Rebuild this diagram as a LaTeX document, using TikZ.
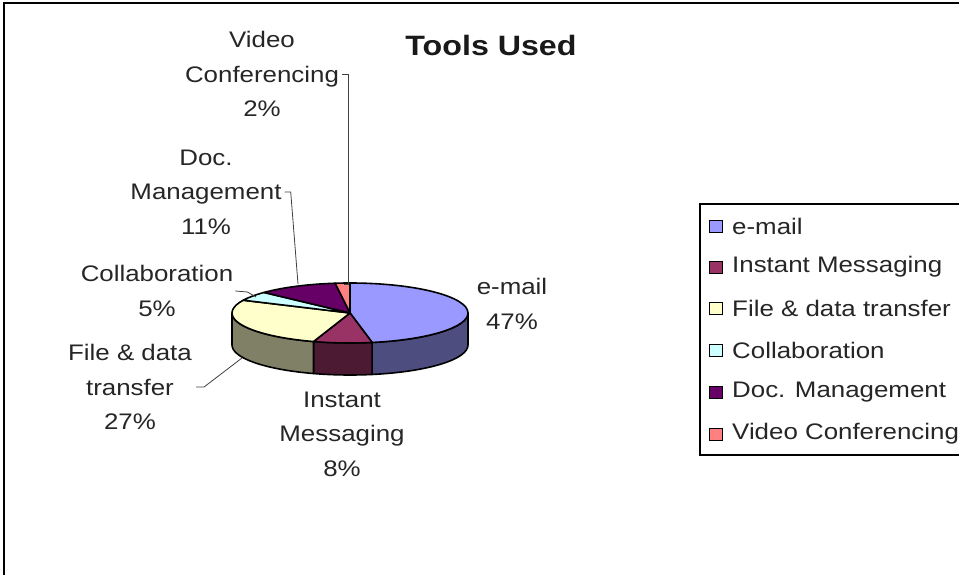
\documentclass[tikz,border=0pt]{standalone}
\usepackage{fontspec}
\setmainfont{Liberation Sans}
\usepackage{graphicx}
\newcommand{\sx}[1]{\scalebox{1.15}[1]{#1}}
\definecolor{cemail}{HTML}{9999FF}
\definecolor{cemailS}{HTML}{4D4D80}
\definecolor{cim}{HTML}{993366}
\definecolor{cimS}{HTML}{4D1A33}
\definecolor{cfile}{HTML}{FFFFCC}
\definecolor{cfileS}{HTML}{808066}
\definecolor{ccol}{HTML}{CCFFFF}
\definecolor{cdoc}{HTML}{660066}
\definecolor{cvid}{HTML}{FF8080}
\begin{document}
\begin{tikzpicture}[x=1pt,y=1pt,
  lbl/.style={align=center, font=\fontsize{22.5}{34.5}\selectfont, text=black!85, inner sep=0pt},
  leg/.style={anchor=west, font=\fontsize{22.5}{27}\selectfont, text=black!85, inner sep=0pt},
  legsq/.style={draw=black, line width=1pt, minimum width=13pt, minimum height=12pt, inner sep=0pt},
  lead/.style={draw=black!75, line width=0.8pt},
  pieedge/.style={draw=black, line width=1.6pt, line join=round},
  ell/.style={x radius=118pt, y radius=30pt}]
\useasboundingbox (0,0) rectangle (959,-575);
% frame
\draw[line width=2pt] (4,-580) -- (4,-3) -- (965,-3);
% title
\node[font=\fontsize{28}{34}\selectfont\bfseries, text=black!90, inner sep=0pt] (title) at (491,-45) {\sx{Tools Used}};
% pie sides
\coordinate (c) at (350,-313);
\filldraw[pieedge, fill=cemailS] (c) ++(-79.2:118pt and 30pt) arc[ell, start angle=-79.2, end angle=0] -- ++(0,-32) arc[ell, start angle=0, end angle=-79.2] -- cycle;
\filldraw[pieedge, fill=cimS] (c) ++(-108:118pt and 30pt) arc[ell, start angle=-108, end angle=-79.2] -- ++(0,-32) arc[ell, start angle=-79.2, end angle=-108] -- cycle;
\filldraw[pieedge, fill=cfileS] (c) ++(-180:118pt and 30pt) arc[ell, start angle=-180, end angle=-108] -- ++(0,-32) arc[ell, start angle=-108, end angle=-180] -- cycle;
% pie top
\filldraw[pieedge, fill=cemail] (c) -- ++(90:118pt and 30pt) arc[ell, start angle=90, end angle=-79.2] -- cycle;
\filldraw[pieedge, fill=cim] (c) -- ++(-79.2:118pt and 30pt) arc[ell, start angle=-79.2, end angle=-108] -- cycle;
\filldraw[pieedge, fill=cfile] (c) -- ++(-108:118pt and 30pt) arc[ell, start angle=-108, end angle=-205.2] -- cycle;
\filldraw[pieedge, fill=ccol] (c) -- ++(154.8:118pt and 30pt) arc[ell, start angle=154.8, end angle=136.8] -- cycle;
\filldraw[pieedge, fill=cdoc] (c) -- ++(136.8:118pt and 30pt) arc[ell, start angle=136.8, end angle=97.2] -- cycle;
\filldraw[pieedge, fill=cvid] (c) -- ++(97.2:118pt and 30pt) arc[ell, start angle=97.2, end angle=90] -- cycle;
% anchor points of leaders
\coordinate (pvid) at (344,-284);
\coordinate (pdoc) at (298,-284);
\coordinate (pcol) at (256,-297);
\coordinate (pfile) at (242,-358);
% labels
\node[lbl] (lvid) at (262,-74) {\sx{Video}\\\sx{Conferencing}\\\sx{2\%}};
\node[lbl] (ldoc) at (206,-192) {\sx{Doc.}\\\sx{Management}\\\sx{11\%}};
\node[lbl] (lcol) at (157,-291) {\sx{Collaboration}\\\sx{5\%}};
\node[lbl] (lfile) at (130,-387) {\sx{File \& data}\\\sx{transfer}\\\sx{27\%}};
\node[lbl] (lim) at (342,-434) {\sx{Instant}\\\sx{Messaging}\\\sx{8\%}};
\node[lbl] (lemail) at (512,-304) {\sx{e-mail}\\\sx{47\%}};
% leaders
\draw[lead] ([xshift=3pt]lvid.east) -- ++(6,0) |- (pvid);
\draw[lead] ([xshift=3pt]ldoc.east) -- ++(6,0) -- (pdoc);
\draw[lead] ([xshift=2pt]lcol.east) -- ++(12,-1) -- (pcol);
\draw[lead] ([xshift=4pt]lfile.east) -- ++(8,0) -- (pfile);
% legend
\draw[line width=1.6pt, fill=white] (700,-204) rectangle (975,-455);
\foreach \y/\col/\txt/\nm in {-226/cemail/e-mail/a, -267/cim/Instant Messaging/b, -308/cfile/File \& data transfer/c, -350/ccol/Collaboration/d, -392/cdoc/Doc. Management/e, -434/cvid/Video Conferencing/f}{
  \node[legsq, fill=\col] (sq\nm) at (716,\y) {};
  \node[leg] (lt\nm) at (732,\y) {\sx{\txt}};
}
\end{tikzpicture}
\end{document}
